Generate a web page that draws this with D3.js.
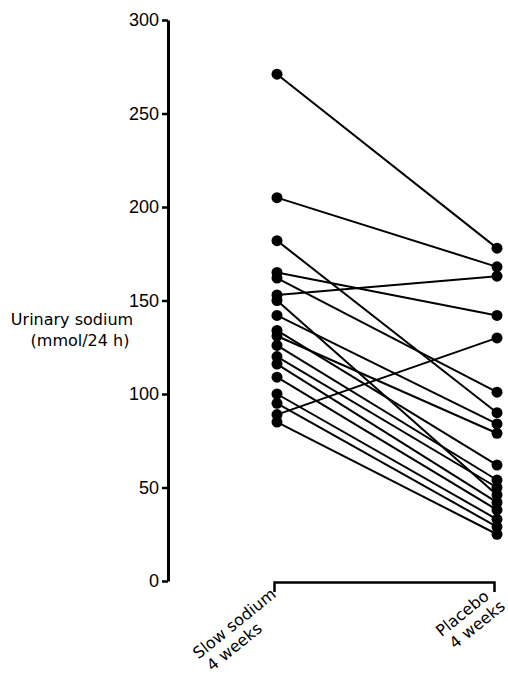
<!DOCTYPE html>
<html>
<head>
<meta charset="utf-8">
<script src="https://cdn.jsdelivr.net/npm/d3@7"></script>
<style>
  body { margin: 0; background: #fff; }
  svg { display: block; font-family: "Liberation Sans", Arial, sans-serif; }
</style>
</head>
<body>
<svg id="chart"></svg>
<script>
// data (mmol/24 h)
const groups = ["Slow sodium", "Placebo"];
const groupLabels = [["Slow sodium", "4 weeks"], ["Placebo", "4 weeks"]];
const slowSodium = [271, 205, 182, 165, 162, 153, 150, 142, 134, 131, 126, 120, 116, 109, 100, 95, 89, 85];
const placebo    = [178, 168, 90, 142, 101, 163, 46, 84, 62, 79, 54, 50, 42, 38, 33, 29, 130, 25];
const yTicks = [0, 50, 100, 150, 200, 250, 300];

const W = 508, H = 682;
const svg = d3.select("#chart").attr("width", W).attr("height", H);

// scales
const x = d3.scalePoint().domain(groups).range([277, 497]);
const y = d3.scaleLinear().domain([0, 300]).range([581, 20]);

// y axis
const yAxis = svg.append("g")
    .attr("transform", "translate(168,0)")
    .call(d3.axisLeft(y).tickValues(yTicks).tickSizeInner(6).tickSizeOuter(0).tickPadding(3));
yAxis.select(".domain").attr("stroke-width", 3);
yAxis.selectAll(".tick line").attr("stroke-width", 2.5);
yAxis.selectAll(".tick text").attr("font-size", 18).attr("fill", "#000");

// x bracket
const xAxis = svg.append("g")
    .attr("transform", "translate(-3,582)")
    .call(d3.axisBottom(x).tickSizeInner(0).tickSizeOuter(10));
xAxis.select(".domain").attr("stroke-width", 2.5);
xAxis.selectAll(".tick").remove();

// paired lines
const pairs = slowSodium.map((v, i) => [v, placebo[i]]);
svg.append("g").selectAll("line")
    .data(pairs)
    .join("line")
    .attr("x1", x(groups[0]))
    .attr("x2", x(groups[1]))
    .attr("y1", d => y(d[0]))
    .attr("y2", d => y(d[1]))
    .attr("stroke", "#000")
    .attr("stroke-width", 2);

// points
svg.append("g").selectAll("circle")
    .data(slowSodium.map(v => [groups[0], v]).concat(placebo.map(v => [groups[1], v])))
    .join("circle")
    .attr("cx", d => x(d[0]))
    .attr("cy", d => y(d[1]))
    .attr("r", 5.5)
    .attr("fill", "#000");

// y label
const labelFont = "'DejaVu Sans', sans-serif";
svg.append("text")
    .attr("x", 72).attr("y", 325)
    .attr("text-anchor", "middle")
    .attr("font-family", labelFont)
    .attr("font-size", 16)
    .text("Urinary sodium");
svg.append("text")
    .attr("x", 80).attr("y", 346)
    .attr("text-anchor", "middle")
    .attr("font-family", labelFont)
    .attr("font-size", 16)
    .text("(mmol/24 h)");

// rotated group labels, second line left-aligned under the first
const labelEnds = [[277, 596], [490, 598]];
groups.forEach((g, i) => {
    const gl = svg.append("g")
        .attr("transform", `translate(${labelEnds[i][0]},${labelEnds[i][1]}) rotate(-39)`)
        .attr("font-family", labelFont)
        .attr("font-size", 16);
    const t1 = gl.append("text")
        .attr("text-anchor", "end")
        .text(groupLabels[i][0]);
    const w1 = t1.node().getComputedTextLength();
    gl.append("text")
        .attr("x", -w1 + 3)
        .attr("y", 18)
        .text(groupLabels[i][1]);
});
</script>
</body>
</html>
